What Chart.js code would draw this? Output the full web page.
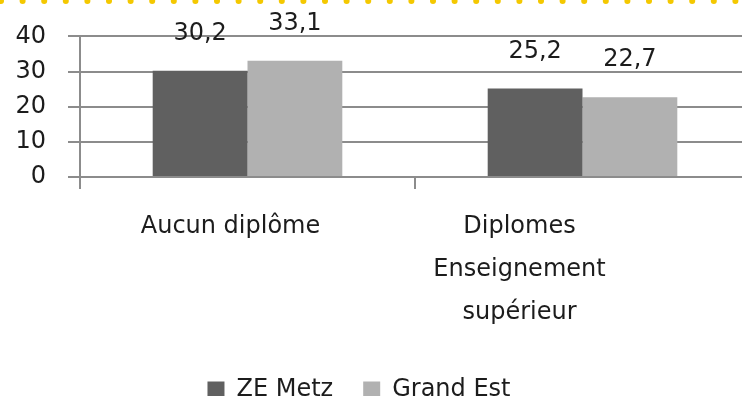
<!DOCTYPE html>
<html lang="fr">
<head>
<meta charset="utf-8">
<script src="https://cdn.jsdelivr.net/npm/chart.js@4.4.1/dist/chart.umd.min.js"></script>
<style>
  html, body { margin: 0; padding: 0; background: #fff; overflow: hidden; }
  #wrap { width: 750px; height: 412px; }
</style>
</head>
<body>
<div id="wrap"><canvas id="chart"></canvas></div>
<script>
// Part des diplômes : ZE Metz vs Grand Est (%)
const categories = [['Aucun diplôme'], ['Diplomes', 'Enseignement', 'supérieur']];
const zeMetz = [30.2, 25.2];
const grandEst = [33.1, 22.7];
const yTicks = [0, 10, 20, 30, 40];

const FONT = '"DejaVu Sans", sans-serif';

// yellow dotted rule along the top edge
const topDots = {
    id: 'topDots',
    beforeDraw(chart) {
        const ctx = chart.ctx;
        ctx.save();
        ctx.fillStyle = '#f4c800';
        for (let x = 1; x < chart.width + 4; x += 21.6) {
            ctx.beginPath();
            ctx.arc(x, 1, 3, 0, Math.PI * 2);
            ctx.fill();
        }
        ctx.restore();
    }
};

// values written well above each bar, with a decimal comma
const valueLabels = {
    id: 'valueLabels',
    afterDatasetsDraw(chart) {
        const ctx = chart.ctx;
        ctx.save();
        ctx.font = '24px ' + FONT;
        ctx.fillStyle = '#1c1c1c';
        ctx.textAlign = 'center';
        ctx.textBaseline = 'middle';
        chart.data.datasets.forEach((ds, di) => {
            chart.getDatasetMeta(di).data.forEach((bar, i) => {
                const txt = ds.data[i].toFixed(1).replace('.', ',');
                ctx.fillText(txt, bar.x, bar.y - 37);
            });
        });
        ctx.restore();
    }
};

// category names under the axis
const categoryLabels = {
    id: 'categoryLabels',
    afterDraw(chart) {
        const ctx = chart.ctx;
        const xs = chart.scales.x;
        const shift = [-17, -63];
        ctx.save();
        ctx.font = '24px ' + FONT;
        ctx.fillStyle = '#1c1c1c';
        ctx.textAlign = 'center';
        ctx.textBaseline = 'middle';
        categories.forEach((lines, i) => {
            const cx = xs.getPixelForValue(i) + shift[i];
            lines.forEach((line, j) => {
                ctx.fillText(line, cx, 227 + j * 43);
            });
        });
        ctx.restore();
    }
};

// nudge the legend row a little to the left
const legendShift = {
    id: 'legendShift',
    afterLayout(chart) {
        chart.legend.right -= 32;
    }
};

new Chart(document.getElementById('chart'), {
    type: 'bar',
    data: {
        labels: categories.map(c => c.join(' ')),
        datasets: [
            { label: 'ZE Metz', data: zeMetz, backgroundColor: '#606060' },
            { label: 'Grand Est', data: grandEst, backgroundColor: '#b1b1b1' }
        ]
    },
    options: {
        responsive: true,
        maintainAspectRatio: false,
        animation: false,
        layout: { padding: { top: 33, right: 0, left: 0, bottom: 0 } },
        datasets: { bar: { categoryPercentage: 0.566, barPercentage: 1 } },
        plugins: {
            tooltip: { enabled: false },
            legend: {
                position: 'bottom',
                labels: {
                    font: { family: FONT, size: 24 },
                    color: '#1c1c1c',
                    boxWidth: 17,
                    boxHeight: 17,
                    padding: 30
                }
            }
        },
        scales: {
            x: {
                ticks: { display: false },
                grid: {
                    drawOnChartArea: false,
                    drawTicks: true,
                    tickLength: 12,
                    color: '#8c8c8c',
                    lineWidth: 2
                },
                border: { display: false },
                afterFit(scale) { scale.height = 171; }
            },
            y: {
                min: 0,
                max: 40,
                afterBuildTicks(scale) { scale.ticks = yTicks.map(v => ({ value: v })); },
                ticks: {
                    font: { family: FONT, size: 24 },
                    color: '#1c1c1c',
                    padding: 22
                },
                grid: {
                    color: '#8c8c8c',
                    lineWidth: 2,
                    tickLength: 12
                },
                border: { color: '#8c8c8c', width: 2 },
                afterFit(scale) { scale.width = 80; }
            }
        }
    },
    plugins: [topDots, valueLabels, categoryLabels, legendShift]
});
</script>
</body>
</html>
